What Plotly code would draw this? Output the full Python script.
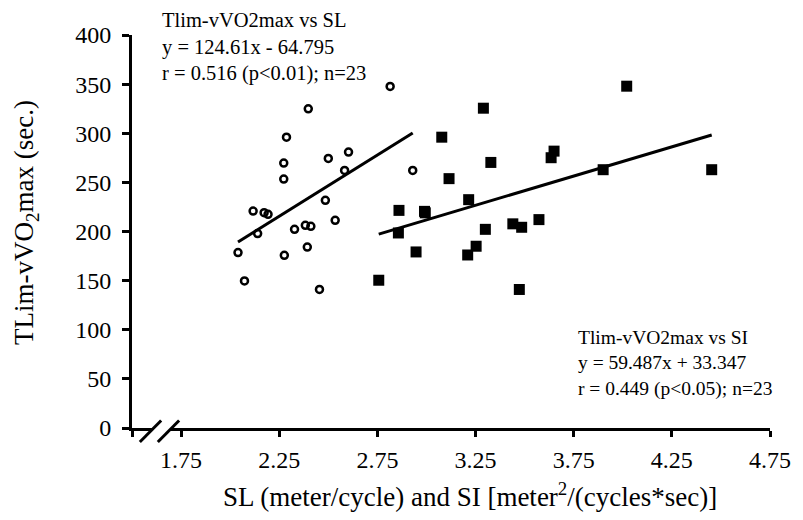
import plotly.graph_objects as go

# ---- data ----
sl_x = [2.398, 2.287, 2.273, 2.273, 2.500, 2.603, 2.583, 2.485, 2.117, 2.173,
        2.193, 2.140, 2.328, 2.383, 2.411, 2.535, 2.393, 2.040, 2.276, 2.073,
        2.455, 2.815, 2.930]
sl_y = [324.9, 296.0, 269.6, 253.4, 274.4, 280.8, 262.2, 231.7, 220.8, 219.2,
        217.5, 197.9, 202.2, 206.3, 205.3, 211.4, 184.2, 178.6, 175.8, 149.7,
        141.0, 347.6, 262.2]

si_x = [3.290, 3.078, 3.328, 3.115, 3.215, 2.860, 2.990, 2.994, 2.857, 2.947,
        2.757, 3.440, 3.485, 3.573, 3.253, 3.210, 3.473, 4.020, 3.650, 3.635,
        3.900, 4.453, 3.300]
si_y = [325.5, 296.0, 270.3, 253.8, 232.4, 221.5, 220.5, 219.0, 198.5, 179.2,
        150.4, 207.8, 204.3, 212.1, 185.0, 176.1, 141.0, 347.9, 281.8, 275.1,
        262.9, 262.9, 202.2]

# regression coefficients as printed on the chart
sl_slope, sl_icpt = 124.61, -64.795
si_slope, si_icpt = 59.487, 33.347

x_ticks = [1.5, 1.75, 2.25, 2.75, 3.25, 3.75, 4.25, 4.75]
x_tick_labels = ["", "1.75", "2.25", "2.75", "3.25", "3.75", "4.25", "4.75"]
y_ticks = [0, 50, 100, 150, 200, 250, 300, 350, 400]

x_title = "SL (meter/cycle) and SI [meter<sup>2</sup>/(cycles*sec)]"
y_title = "TLim-vVO<sub>2</sub>max (sec.)"
sl_label = "Tlim-vVO2max vs SL<br>y = 124.61x - 64.795<br>r = 0.516 (p&lt;0.01); n=23"
si_label = "Tlim-vVO2max vs SI<br>y = 59.487x + 33.347<br>r = 0.449 (p&lt;0.05); n=23"

FONT = "Liberation Serif"

fig = go.Figure()

# trend lines over each data range
sl_lx = [min(sl_x), max(sl_x)]
si_lx = [min(si_x), max(si_x)]
fig.add_trace(go.Scatter(x=sl_lx, y=[sl_slope * v + sl_icpt for v in sl_lx],
                         mode="lines", line=dict(color="black", width=3),
                         showlegend=False, hoverinfo="skip"))
fig.add_trace(go.Scatter(x=si_lx, y=[si_slope * v + si_icpt for v in si_lx],
                         mode="lines", line=dict(color="black", width=3),
                         showlegend=False, hoverinfo="skip"))

fig.add_trace(go.Scatter(x=sl_x, y=sl_y, mode="markers", name="SL",
                         marker=dict(symbol="circle-open", size=7, color="black",
                                     line=dict(width=2.5, color="black")),
                         showlegend=False))
fig.add_trace(go.Scatter(x=si_x, y=si_y, mode="markers", name="SI",
                         marker=dict(symbol="square", size=11, color="black",
                                     line=dict(width=0)),
                         showlegend=False))

L, R, T, B = 132, 21, 35, 92
W, H = 803, 520
pw, ph = W - L - R, H - T - B


def px(x):
    return (x - L) / pw


def py(y):
    return (H - B - y) / ph


fig.update_layout(
    width=W, height=H,
    margin=dict(l=L, r=R, t=T, b=B, pad=0),
    paper_bgcolor="white", plot_bgcolor="white",
    font=dict(family=FONT, color="black", size=24),
    xaxis=dict(range=[1.5, 4.75], tickvals=x_ticks, ticktext=x_tick_labels,
               showgrid=False, zeroline=False, showline=True, linewidth=3,
               linecolor="black", ticks="outside", ticklen=6, tickwidth=3,
               tickcolor="black", tickfont=dict(size=24, family=FONT),
               ticklabelstandoff=2),
    yaxis=dict(range=[0, 400], tickvals=y_ticks,
               showgrid=False, zeroline=False, showline=True, linewidth=3,
               linecolor="black", ticks="outside", ticklen=7, tickwidth=3,
               tickcolor="black", tickfont=dict(size=24, family=FONT),
               ticklabelstandoff=6),
)

# axis titles
fig.add_annotation(xref="paper", yref="paper", x=px(476), y=py(495),
                   xanchor="center", yanchor="middle", showarrow=False,
                   text=x_title, font=dict(size=27, family=FONT))
fig.add_annotation(xref="paper", yref="paper", x=px(24), y=py(222),
                   xanchor="center", yanchor="middle", showarrow=False,
                   textangle=-90, text=y_title, font=dict(size=27, family=FONT))

# regression labels
fig.add_annotation(xref="paper", yref="paper", x=px(161), y=py(7),
                   xanchor="left", yanchor="top", align="left", showarrow=False,
                   text=sl_label, font=dict(size=20.5, family=FONT))
fig.add_annotation(xref="paper", yref="paper", x=px(584), y=py(325),
                   xanchor="left", yanchor="top", align="left", showarrow=False,
                   text=si_label, font=dict(size=19.5, family=FONT))

# axis break mark "//"
fig.add_shape(type="path", xref="paper", yref="paper",
              path=f"M {px(140)},{py(442)} L {px(161.7)},{py(420.5)} L {px(180)},{py(420.5)} L {px(158.3)},{py(442)} Z",
              fillcolor="white", line=dict(width=0), layer="above")
fig.add_shape(type="line", xref="paper", yref="paper",
              x0=px(140), y0=py(442), x1=px(161.7), y1=py(420.5),
              line=dict(color="black", width=3), layer="above")
fig.add_shape(type="line", xref="paper", yref="paper",
              x0=px(158.3), y0=py(442), x1=px(180), y1=py(420.5),
              line=dict(color="black", width=3), layer="above")

fig.write_html("out.html")
